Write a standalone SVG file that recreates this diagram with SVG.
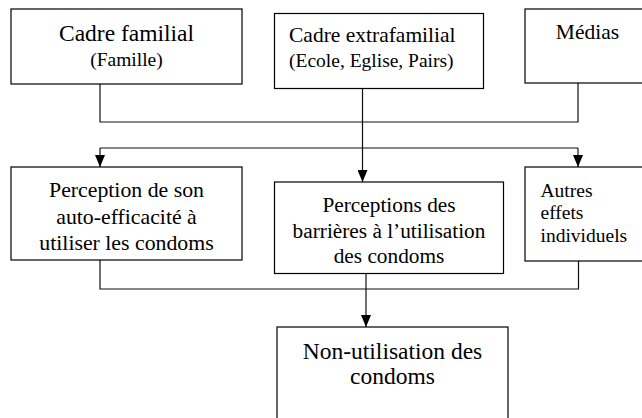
<svg xmlns="http://www.w3.org/2000/svg" width="642" height="418" viewBox="0 0 642 418" font-family="Liberation Serif, Times New Roman, serif">
<defs>
<style>
.box{fill:#fff;stroke:#000;stroke-width:1.2}
.t{fill:#000}
.c{text-anchor:middle}
.ln{fill:none;stroke:#111;stroke-width:1.2}
</style>
<marker id="ah" viewBox="0 0 12 10" refX="12" refY="5" markerWidth="12" markerHeight="10" markerUnits="userSpaceOnUse" orient="auto">
<path d="M0,0 L12,5 L0,10 z" fill="#000"/>
</marker>
</defs>
<rect width="642" height="418" fill="#fff"/>
<g id="connectors">
<path class="ln" d="M100,84 V122 H578 V83"/>
<path class="ln" d="M362.5,88 V182" marker-end="url(#ah)"/>
<path class="ln" d="M100,148 H578"/>
<path class="ln" d="M100,148 V167" marker-end="url(#ah)"/>
<path class="ln" d="M578,148 V167" marker-end="url(#ah)"/>
<path class="ln" d="M100,260 V289 H578.5 V260"/>
<path class="ln" d="M366,273 V327" marker-end="url(#ah)"/>
</g>
<g id="cadre-familial">
<rect class="box" x="11" y="9" width="231" height="75"/>
<text class="t c" x="126.5" y="41" font-size="23.5">Cadre familial</text>
<text class="t c" x="126.5" y="66" font-size="19.5">(Famille)</text>
</g>
<g id="cadre-extrafamilial">
<rect class="box" x="274.5" y="13.5" width="209" height="75"/>
<text class="t" x="289" y="42" font-size="21.5">Cadre extrafamilial</text>
<text class="t" x="289" y="67" font-size="19.5">(Ecole, Eglise, Pairs)</text>
</g>
<g id="medias">
<rect class="box" x="525" y="9" width="130" height="74"/>
<text class="t c" x="587.5" y="39" font-size="21.5">Médias</text>
</g>
<g id="auto-efficacite">
<rect class="box" x="11" y="167" width="231" height="93"/>
<text class="t c" x="126.5" y="197" font-size="21.8">Perception de son</text>
<text class="t c" x="126.5" y="223.5" font-size="21.8">auto-efficacité à</text>
<text class="t c" x="126.5" y="250" font-size="21.8">utiliser les condoms</text>
</g>
<g id="barrieres">
<rect class="box" x="274.5" y="182" width="229" height="91.5"/>
<text class="t c" x="389" y="212" font-size="21.3">Perceptions des</text>
<text class="t c" x="389" y="237.5" font-size="21.3">barrières à l’utilisation</text>
<text class="t c" x="389" y="263" font-size="21.3">des condoms</text>
</g>
<g id="autres-effets">
<rect class="box" x="525" y="167" width="130" height="94"/>
<text class="t" x="540.5" y="197" font-size="19.5">Autres</text>
<text class="t" x="540.5" y="219" font-size="19.5">effets</text>
<text class="t" x="540.5" y="242" font-size="19.5">individuels</text>
</g>
<g id="non-utilisation">
<rect class="box" x="277" y="327" width="231" height="110"/>
<text class="t c" x="392.5" y="358.5" font-size="23.5">Non-utilisation des</text>
<text class="t c" x="392.5" y="384" font-size="23.5">condoms</text>
</g>
</svg>
